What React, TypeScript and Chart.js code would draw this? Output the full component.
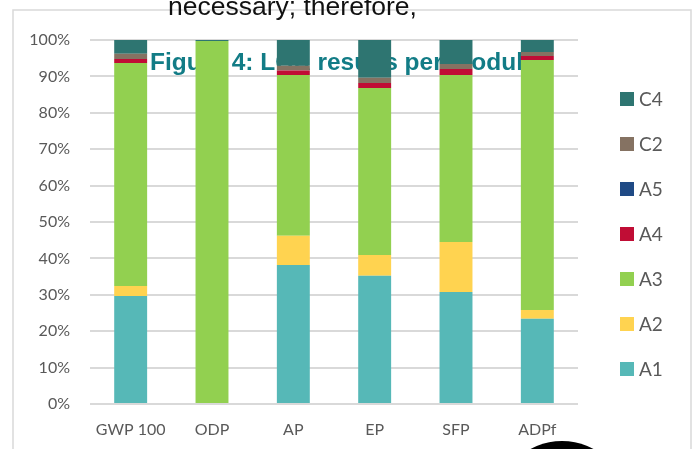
import React, { useEffect, useRef } from 'react';
import { Chart, registerables } from 'chart.js';

Chart.register(...registerables);

// categories and per-module shares (percent of each impact category)
const categories = ['GWP 100', 'ODP', 'AP', 'EP', 'SFP', 'ADPf'];
const a1 = [29.7, 0, 38.2, 35.2, 30.8, 23.4];
const a2 = [2.7, 0, 8.0, 5.7, 13.7, 2.4];
const a3 = [61.3, 99.7, 44.2, 45.9, 45.9, 68.7];
const a4 = [1.1, 0, 1.2, 1.4, 1.6, 1.1];
const a5 = [0, 0, 0, 0, 0, 0];
const c2 = [1.4, 0, 1.3, 1.4, 1.4, 1.1];
const c4 = [3.8, 0.3, 7.1, 10.4, 6.6, 3.3];

const seriesNames = ['A1', 'A2', 'A3', 'A4', 'A5', 'C2', 'C4'];
const seriesValues = [a1, a2, a3, a4, a5, c2, c4];
const seriesColors = ['#56B8B7', '#FFD350', '#92D050', '#C00D35', '#1F4A85', '#857262', '#2E7571'];

const textGray = '#595959';

// light frame around the chart object
const framePlugin = {
  id: 'frame',
  beforeDraw(chart: Chart) {
    const ctx = chart.ctx;
    ctx.save();
    ctx.strokeStyle = '#d9d9d9';
    ctx.lineWidth = 1.5;
    ctx.strokeRect(13, 10, 678, 520);
    ctx.restore();
  }
};

// the caption that sits behind the bars
const captionPlugin = {
  id: 'caption',
  beforeDatasetsDraw(chart: Chart) {
    const ctx = chart.ctx;
    ctx.save();
    ctx.fillStyle = '#127C86';
    ctx.font = 'bold 24.5px "Liberation Sans", Arial, sans-serif';
    ctx.textBaseline = 'alphabetic';
    ctx.fillText('Figure 4: LCA results per module', 150, 70);
    ctx.restore();
  }
};

// legend on the right, top entry is the last series
const sideLegendPlugin = {
  id: 'sideLegend',
  afterDraw(chart: Chart) {
    const ctx = chart.ctx;
    ctx.save();
    ctx.font = '19px Lato, sans-serif';
    ctx.textBaseline = 'alphabetic';
    const n = seriesNames.length;
    for (let i = 0; i < n; i++) {
      const idx = n - 1 - i;
      const cy = 99 + i * 45;
      ctx.fillStyle = seriesColors[idx];
      ctx.fillRect(620, cy - 7, 14, 14);
      ctx.fillStyle = textGray;
      ctx.fillText(seriesNames[idx], 639, cy + 7);
    }
    ctx.restore();
  }
};

// stray page bits that overlap the figure
const overlayPlugin = {
  id: 'overlay',
  afterDraw(chart: Chart) {
    const ctx = chart.ctx;
    ctx.save();
    ctx.fillStyle = '#111111';
    ctx.font = '26.5px "Liberation Sans", Arial, sans-serif';
    ctx.textBaseline = 'alphabetic';
    ctx.fillText('necessary; therefore,', 168, 15);
    ctx.beginPath();
    ctx.arc(562, 507, 66, 0, Math.PI * 2);
    ctx.fillStyle = '#000000';
    ctx.fill();
    ctx.restore();
  }
};

export default function App() {
  const canvasRef = useRef<HTMLCanvasElement | null>(null);

  useEffect(() => {
    if (!canvasRef.current) return;
    const chart = new Chart(canvasRef.current, {
      type: 'bar',
      data: {
        labels: categories,
        datasets: seriesNames.map((name, i) => ({
          label: name,
          data: seriesValues[i],
          backgroundColor: seriesColors[i],
          borderWidth: 0,
          barPercentage: 0.405,
          categoryPercentage: 1
        }))
      },
      options: {
        animation: false,
        responsive: true,
        maintainAspectRatio: false,
        layout: {
          padding: { left: 0, top: 40, right: 115, bottom: 0 }
        },
        plugins: {
          legend: { display: false },
          tooltip: { enabled: false }
        },
        scales: {
          x: {
            stacked: true,
            grid: { display: false, drawTicks: false },
            border: { display: false },
            ticks: {
              color: textGray,
              font: { family: 'Lato', size: 16 },
              padding: 16
            },
            afterFit: (scale: any) => {
              scale.height = 45;
            }
          },
          y: {
            stacked: true,
            min: 0,
            max: 100,
            grid: { color: '#d9d9d9', lineWidth: 2, drawTicks: false },
            border: { display: false },
            ticks: {
              stepSize: 10,
              color: textGray,
              font: { family: 'Lato', size: 16 },
              padding: 20,
              callback: (v: any) => v + '%'
            },
            afterFit: (scale: any) => {
              scale.width = 90;
            }
          }
        }
      },
      plugins: [framePlugin, captionPlugin, sideLegendPlugin, overlayPlugin]
    });
    return () => chart.destroy();
  }, []);

  return (
    <div style={{ position: 'absolute', left: 0, top: 0, width: 693, height: 449, background: '#ffffff' }}>
      <canvas ref={canvasRef} />
    </div>
  );
}
